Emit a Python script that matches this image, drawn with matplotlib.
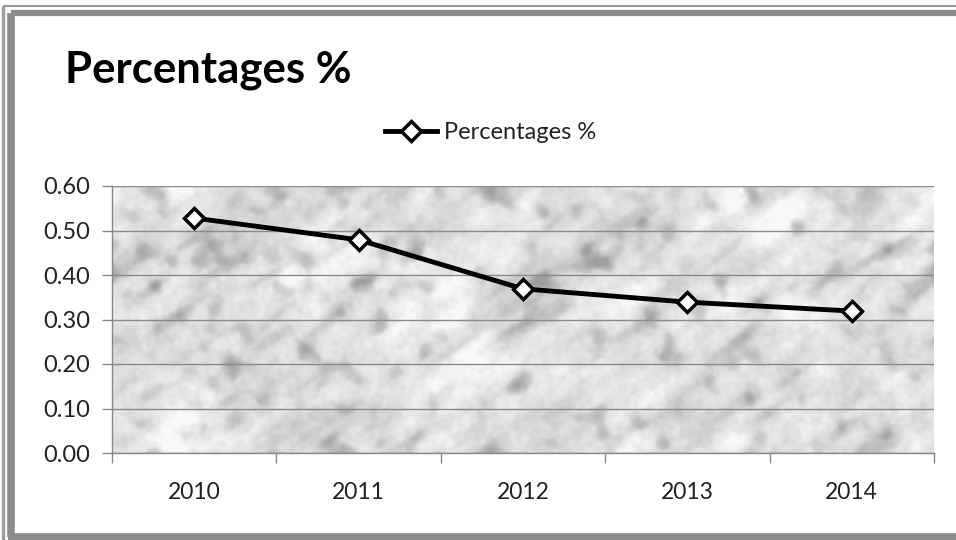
import numpy as np
import matplotlib.pyplot as plt
from matplotlib.lines import Line2D

plt.rcParams['font.family'] = ['Lato', 'DejaVu Sans']

years = ['2010', '2011', '2012', '2013', '2014']
percentages = [0.528, 0.479, 0.369, 0.339, 0.319]
series_name = 'Percentages %'
y_ticks = [0.0, 0.1, 0.2, 0.3, 0.4, 0.5, 0.6]

W, H = 956, 540
fig = plt.figure(figsize=(W/100, H/100), dpi=100)
fig.patch.set_facecolor('white')

# frame: thin outer line + thick inner band (top, left, bottom only)
def fl(xs, ys, lw, c):
    fig.add_artist(Line2D([v/W for v in xs], [1 - v/H for v in ys], lw=lw, color=c,
                          transform=fig.transFigure, solid_capstyle='butt'))

fl([2.5, W + 20], [5.5, 5.5], 1.5, '#9a9a9a')
fl([2.5, 2.5], [5.5, H + 20], 2.5, '#a0a0a0')
fl([11, W + 20], [13, 13], 4.5, '#8c8c8c')
fl([11, 11], [13, 537], 5.5, '#8c8c8c')
fl([8, W + 20], [537, 537], 5.5, '#8c8c8c')

ax = fig.add_axes([112/W, 1 - 453/H, 822/W, 267/H])

# marble-like background texture (decoration only)
ny, nx = 267, 822
rng = np.random.default_rng(11)
fy = np.fft.fftfreq(ny)[:, None]
fx = np.fft.fftfreq(nx)[None, :]
a = np.deg2rad(35)
u = fx*np.cos(a) - fy*np.sin(a)
v = fx*np.sin(a) + fy*np.cos(a)

def filt(mask):
    out = np.real(np.fft.ifft2(np.fft.fft2(rng.standard_normal((ny, nx))) * mask))
    return out / out.std()

clouds = filt(np.exp(-(fx**2 + fy**2) / 0.012**2))
medium = filt(np.exp(-(fx**2 + fy**2) / 0.035**2))
streaks = filt(np.exp(-(u/0.012)**2 - (v/0.05)**2))
grain = filt(np.exp(-(fx**2 + fy**2) / 0.12**2))
tex = (0.88 + 0.025*clouds + 0.018*streaks + 0.02*medium
       - 0.07*np.clip(-medium - 0.7, 0, None) - 0.04*np.clip(-streaks - 0.9, 0, None)
       + 0.012*grain)
tex = np.clip(tex, 0.62, 0.97)
ax.imshow(tex, cmap='gray', vmin=0, vmax=1, extent=(-0.5, 4.5, 0, 0.6),
          aspect='auto', zorder=0, interpolation='bilinear')

x = np.arange(len(years))
ax.plot(x, percentages, color='black', lw=3.5, marker='D', markersize=10,
        markerfacecolor='white', markeredgecolor='black', markeredgewidth=2.5,
        label=series_name, zorder=3)

ax.set_xlim(-0.5, 4.5)
ax.set_ylim(0, 0.6)
ax.set_yticks(y_ticks)
ax.set_yticklabels([f'{v:.2f}' for v in y_ticks])
ax.yaxis.grid(True, color='#8a8a8a', lw=1, zorder=1)

ax.set_xticks(x)
ax.set_xticklabels(years)
ax.set_xticks(np.arange(-0.5, 4.6, 1), minor=True)
ax.tick_params(axis='x', which='major', length=0, pad=21, labelsize=16.5, labelcolor='#222222')
ax.tick_params(axis='x', which='minor', length=7, width=1, color='#888888')
ax.tick_params(axis='y', length=7, width=1, color='#888888', pad=9, labelsize=17, labelcolor='#222222')

for s in ['top', 'right']:
    ax.spines[s].set_visible(False)
for s in ['left', 'bottom']:
    ax.spines[s].set_color('#888888')
    ax.spines[s].set_linewidth(1)

fig.text(65/W, 1 - 70/H, 'Percentages %', fontsize=31.5, fontweight='bold',
         ha='left', va='center', color='black')

leg = fig.legend(loc='center', bbox_to_anchor=(491/W, 1 - 133/H), frameon=False,
                 fontsize=17, handlelength=2.2, handletextpad=0.3, borderpad=0)
for txt in leg.get_texts():
    txt.set_color('#222222')

fig.savefig('out.png', dpi=100)
